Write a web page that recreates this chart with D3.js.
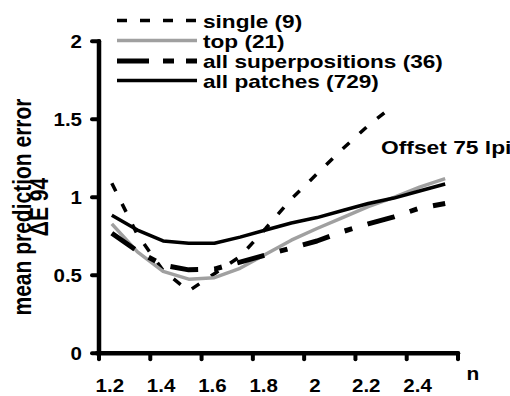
<!DOCTYPE html>
<html>
<head>
<meta charset="utf-8">
<script src="https://cdn.jsdelivr.net/npm/d3@7"></script>
<style>
  html, body { margin: 0; padding: 0; background: #fff; }
  svg { display: block; }
  text { font-family: "Liberation Sans", Arial, sans-serif; font-weight: bold; fill: #000; }
</style>
</head>
<body>
<svg id="chart" width="510" height="396"></svg>
<script>
// ---- data ----
const categories = ["1.2","1.3","1.4","1.5","1.6","1.7","1.8","1.9","2","2.1","2.2","2.3","2.4","2.5"];
const tickLabels = ["1.2","1.4","1.6","1.8","2","2.2","2.4"];
const yTicks = [0, 0.5, 1, 1.5, 2];
const singleVals = [1.09, 0.76, 0.53, 0.40, 0.51, 0.62, 0.80, 0.99, 1.15, 1.31, 1.46, 1.59, null, null];
const topVals = [0.83, 0.65, 0.525, 0.475, 0.485, 0.545, 0.635, 0.725, 0.80, 0.87, 0.94, 1.0, 1.065, 1.12];
const superVals = [0.77, 0.655, 0.565, 0.535, 0.54, 0.585, 0.63, 0.675, 0.72, 0.78, 0.83, 0.875, 0.93, 0.96];
const patchVals = [0.885, 0.79, 0.72, 0.705, 0.705, 0.745, 0.79, 0.835, 0.87, 0.915, 0.96, 0.995, 1.04, 1.085];
const seriesNames = ["single (9)", "top (21)", "all superpositions (36)", "all patches (729)"];

// ---- styles ----
const styles = [
  { color: "#000", width: 3.5, dash: "9,14", legDash: "10,13" },
  { color: "#a0a0a0", width: 3.5, dash: null, legDash: null },
  { color: "#000", width: 5, dash: "28,16,8,16", legDash: "32,14,11,12" },
  { color: "#000", width: 3.5, dash: null, legDash: null }
];
const seriesData = [singleVals, topVals, superVals, patchVals];

const svg = d3.select("#chart");

const x = d3.scaleBand().domain(categories).range([99, 458]).padding(0);
const bw = x.bandwidth();
const cx = c => x(c) + bw / 2;
const y = d3.scaleLinear().domain([0, 2]).range([353.3, 41.3]);

// text helper: horizontally widened text (the reference glyphs are wide)
function label(parent, px, py, str, opts) {
  const o = Object.assign({ size: 19, sx: 1.1, anchor: "start", dy: null }, opts || {});
  const t = parent.append("text")
    .attr("transform", `translate(${px},${py}) scale(${o.sx},1)`)
    .attr("text-anchor", o.anchor)
    .attr("font-size", o.size)
    .text(str);
  if (o.dy) t.attr("dy", o.dy);
  return t;
}

// series lines
const line = d3.line()
  .defined(d => d.v != null)
  .x(d => cx(d.c))
  .y(d => y(d.v));

seriesData.forEach((vals, i) => {
  const pts = categories.map((c, j) => ({ c, v: vals[j] }));
  svg.append("path")
    .attr("d", line(pts))
    .attr("fill", "none")
    .attr("stroke", styles[i].color)
    .attr("stroke-width", styles[i].width)
    .attr("stroke-linejoin", "round")
    .attr("stroke-dasharray", styles[i].dash);
});

// y axis
const yAxis = svg.append("g");
yAxis.append("line")
  .attr("x1", 99).attr("x2", 99)
  .attr("y1", y(2)).attr("y2", y(0))
  .attr("stroke", "#000").attr("stroke-width", 4.5).attr("stroke-linecap", "round");
yTicks.forEach(t => {
  yAxis.append("line")
    .attr("x1", 92).attr("x2", 99)
    .attr("y1", y(t)).attr("y2", y(t))
    .attr("stroke", "#000").attr("stroke-width", 4).attr("stroke-linecap", "round");
  label(yAxis, 82, y(t), d3.format("")(t), { anchor: "end", dy: "0.36em", sx: 1.08 });
});

// x axis
const xAxis = svg.append("g");
xAxis.append("line")
  .attr("x1", 97).attr("x2", 458)
  .attr("y1", y(0)).attr("y2", y(0))
  .attr("stroke", "#000").attr("stroke-width", 4.5).attr("stroke-linecap", "round");
for (let k = 0; k <= categories.length; k += 2) {
  const tx = k < categories.length ? x(categories[k]) : x.range()[1];
  xAxis.append("line")
    .attr("x1", tx).attr("x2", tx)
    .attr("y1", y(0)).attr("y2", y(0) + 6)
    .attr("stroke", "#000").attr("stroke-width", 4).attr("stroke-linecap", "round");
}
tickLabels.forEach(lbl => {
  label(xAxis, cx(lbl) - 2, 392, lbl, { anchor: "middle", sx: 1.08 });
});
label(svg, 473, 380, "n", { anchor: "middle", sx: 1.1 });

// y title (rotated, two lines)
const tg = svg.append("g").attr("transform", "translate(0,207) scale(1.25,1) rotate(-90)");
const title = tg.append("text").attr("text-anchor", "middle").attr("font-size", 21);
title.append("tspan").attr("x", 0).attr("y", 24.8).text("mean prediction error");
title.append("tspan").attr("x", 0).attr("y", 38.5).text("\u0394E 94");

// annotation
label(svg, 381, 154, "Offset 75 lpi", { sx: 1.2 });

// legend
const legY = [20.5, 40.5, 61, 80.5];
seriesNames.forEach((name, i) => {
  svg.append("line")
    .attr("x1", 117).attr("x2", 197)
    .attr("y1", legY[i]).attr("y2", legY[i])
    .attr("stroke", styles[i].color)
    .attr("stroke-width", styles[i].width)
    .attr("stroke-dasharray", styles[i].legDash);
  label(svg, 203, legY[i] + 7, name, { sx: 1.19 });
});
</script>
</body>
</html>
